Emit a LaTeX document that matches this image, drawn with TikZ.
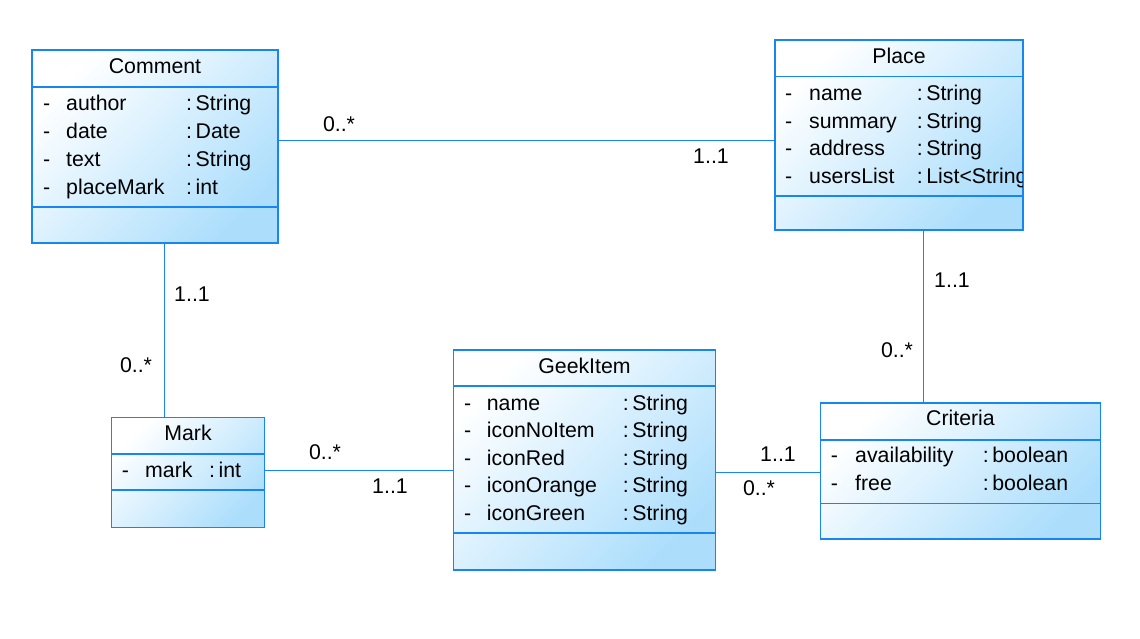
\documentclass[tikz,border=0pt]{standalone}
\usepackage{fontspec}
\setmainfont{Liberation Sans}
\definecolor{umlblue}{RGB}{24,134,240}
\definecolor{umlfill}{RGB}{172,222,252}
\begin{document}
\begin{tikzpicture}[x=1pt,y=-1pt,
  cls/.style={draw=umlblue, line width=1.2pt, top color=white, bottom color=umlfill, shading angle=45, inner sep=0pt, outer sep=0pt, anchor=north west},
  sep/.style={draw=umlblue, line width=1.1pt},
  conn/.style={draw=umlblue, line width=1pt},
  txt/.style={font=\fontsize{21.3}{25}\selectfont, inner sep=0pt, anchor=base west},
  ttl/.style={font=\fontsize{21.3}{25}\selectfont, inner sep=0pt, anchor=base},
  lbl/.style={font=\fontsize{21.3}{25}\selectfont, inner sep=0pt, anchor=base}]
\useasboundingbox (0,0) rectangle (1140,638);
% ---- class boxes
\node[cls, minimum width=246pt, minimum height=193pt] (comment) at (32,50) {};
\node[cls, minimum width=248pt, minimum height=190pt] (place) at (775,40) {};
\node[cls, minimum width=262pt, minimum height=220pt] (geek) at (453.5,350) {};
\node[cls, minimum width=280pt, minimum height=136pt] (crit) at (820.5,403) {};
\node[cls, minimum width=153pt, minimum height=110pt] (mark) at (111.5,417.5) {};
% ---- separators
\draw[sep] (32,87) -- (278,87) (32,207) -- (278,207);
\draw[sep] (775,76.5) -- (1023,76.5) (775,196) -- (1023,196);
\draw[sep] (453.5,386) -- (715.5,386) (453.5,533) -- (715.5,533);
\draw[sep] (820.5,440) -- (1100.5,440) (820.5,503.5) -- (1100.5,503.5);
\draw[sep] (111.5,454) -- (264.5,454) (111.5,490) -- (264.5,490);
% ---- titles
\node[ttl] (commentT) at (155,73.3) {Comment};
\node[ttl] (placeT) at (899,63.3) {Place};
\node[ttl] (geekT) at (584.5,373.3) {GeekItem};
\node[ttl] (critT) at (960.5,425.7) {Criteria};
\node[ttl] (markT) at (188,440.7) {Mark};
% ---- attributes
\foreach \n/\ty [count=\i] in {author/String, date/Date, text/String, placeMark/int} {
  \node[txt] (cm-d\i) at (43,82.5+28*\i) {-};
  \node[txt] (cm-n\i) at (66,82.5+28*\i) {\n};
  \node[txt] (cm-t\i) at (186,82.5+28*\i) {:\,\ty};
}
\begin{scope}
\clip (775,40) rectangle (1022.4,230);
\foreach \n/\ty [count=\i] in {name/String, summary/String, address/String, usersList/List<String>} {
  \node[txt] (pl-d\i) at (785,72.9+27.6*\i) {-};
  \node[txt] (pl-n\i) at (809,72.9+27.6*\i) {\n};
  \node[txt] (pl-t\i) at (916.7,72.9+27.6*\i) {:\,\ty};
}
\end{scope}
\foreach \n/\ty [count=\i] in {name/String, iconNoItem/String, iconRed/String, iconOrange/String, iconGreen/String} {
  \node[txt] (gk-d\i) at (464,382.5+27.5*\i) {-};
  \node[txt] (gk-n\i) at (486.7,382.5+27.5*\i) {\n};
  \node[txt] (gk-t\i) at (622.7,382.5+27.5*\i) {:\,\ty};
}
\foreach \n/\ty [count=\i] in {availability/boolean, free/boolean} {
  \node[txt] (cr-d\i) at (830.7,435.4+27.3*\i) {-};
  \node[txt] (cr-n\i) at (855,435.4+27.3*\i) {\n};
  \node[txt] (cr-t\i) at (982.7,435.4+27.3*\i) {:\,\ty};
}
\node[txt] (mk-d1) at (121.7,477.3) {-};
\node[txt] (mk-n1) at (145,477.3) {mark};
\node[txt] (mk-t1) at (209,477.3) {:\,int};
% ---- connectors
\coordinate (cpY) at (0,140);
\coordinate (cmX) at (164,0);
\coordinate (mgY) at (0,470);
\coordinate (gcY) at (0,472);
\coordinate (pcX) at (923.5,0);
\draw[conn] (comment.east |- cpY) -- (place.west |- cpY);
\draw[conn] (comment.south -| cmX) -- (mark.north -| cmX);
\draw[conn] (mark.east |- mgY) -- (geek.west |- mgY);
\draw[conn] (geek.east |- gcY) -- (crit.west |- gcY);
\draw[conn] (place.south -| pcX) -- (crit.north -| pcX);
% ---- multiplicities
\node[lbl] (l1) at (339,131) {0..*};
\node[lbl] (l2) at (711,163) {1..1};
\node[lbl] (l3) at (192,301) {1..1};
\node[lbl] (l4) at (136,372) {0..*};
\node[lbl] (l5) at (325,459) {0..*};
\node[lbl] (l6) at (390,493) {1..1};
\node[lbl] (l7) at (778,461) {1..1};
\node[lbl] (l8) at (759,495) {0..*};
\node[lbl] (l9) at (952,287) {1..1};
\node[lbl] (l10) at (897,357) {0..*};
\end{tikzpicture}
\end{document}
